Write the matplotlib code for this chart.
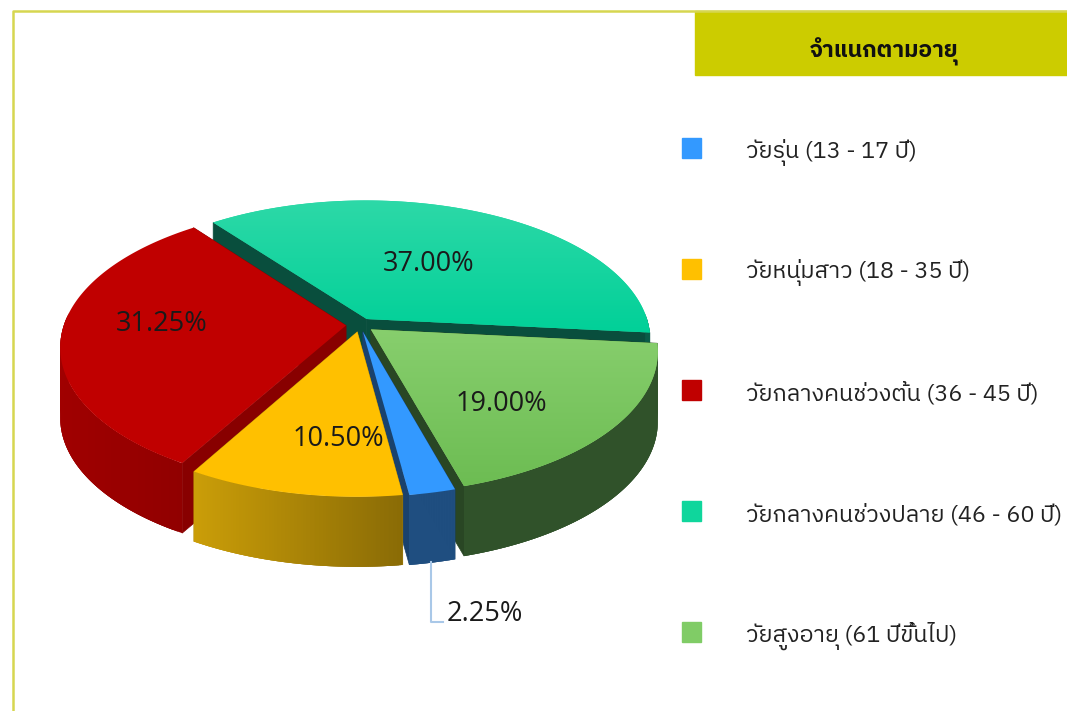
import numpy as np
import matplotlib
matplotlib.use('Agg')
import matplotlib.pyplot as plt
from matplotlib import font_manager as fm
from matplotlib.patches import Rectangle, Polygon
from matplotlib.colors import LinearSegmentedColormap

title = 'จำแนกตามอายุ'
categories = ['วัยรุ่น (13 - 17 ปี)', 'วัยหนุ่มสาว (18 - 35 ปี)', 'วัยกลางคนช่วงต้น (36 - 45 ปี)',
              'วัยกลางคนช่วงปลาย (46 - 60 ปี)', 'วัยสูงอายุ (61 ปีขึ้นไป)']
values = [2.25, 10.50, 31.25, 37.00, 19.00]
top_colors = ['#3399ff', '#ffc000', '#c00000', '#0fd69c', '#80cc66']
top_light = ['#3399ff', '#ffc000', '#c00000', '#2fd9a8', '#88cf6e']
top_dark = ['#3399ff', '#ffc000', '#c00000', '#00d098', '#6cbc52']
wall_colors = ['#1f4e80', '#cb9e08', '#a00000', '#0a5c48', '#30522a']
wall_shade = [1.0, 0.68, 0.9, 1.0, 1.0]
label_pos = [(485, 614), (338, 439), (162, 324), (429, 264), (501, 404)]

# pie geometry on screen, pixels
cx, cy = 360, 325
rx, ry = 282, 138
persp = 0.15
depth = 70
start_angle = -74
explode = [0.05, 0.05, 0.05, 0.05, 0.05]

thai_names = [f.name for f in fm.fontManager.ttflist if 'thai' in f.name.lower()]
thai_names = sorted(set(thai_names))
plt.rcParams['font.family'] = thai_names + ['Noto Sans', 'DejaVu Sans']


def project(x, y):
    f = 1 / (1 + persp * y)
    return cx + rx * x * f, cy - ry * y * f


def darker(col, k):
    return tuple(np.clip(np.array(matplotlib.colors.to_rgb(col)) * k, 0, 1))


fig = plt.figure(figsize=(1067 / 100, 711 / 100), dpi=100)
ax = fig.add_axes([0, 0, 1, 1])
ax.set_xlim(0, 1067)
ax.set_ylim(711, 0)
ax.axis('off')

# frame and title
ax.plot([13, 13, 1067], [711, 11, 11], color='#d6d650', lw=1.8)
ax.add_patch(Rectangle((695, 11), 372, 64, color='#cccc00'))
ax.text(884, 52, title, ha='center', va='center', fontsize=16.5, fontweight='bold', color='#111111')

# slices from clockwise cumulative angles
ends = start_angle - np.cumsum(values) * 3.6
starts = ends + np.array(values) * 3.6
slices = []
for i in range(len(values)):
    a = np.radians(np.linspace(starts[i], ends[i], 120))
    mid = np.radians((starts[i] + ends[i]) / 2)
    ox, oy = explode[i] * np.cos(mid), explode[i] * np.sin(mid)
    sx, sy = project(np.cos(a) + ox, np.sin(a) + oy)
    ax0, ay0 = project(ox, oy)
    slices.append((i, a, sx, sy, ax0, ay0, np.sin(mid)))

for i, a, sx, sy, ax0, ay0, order in sorted(slices, key=lambda s: -s[6]):
    wall = wall_colors[i]
    # radial cut faces
    for px, py in [(sx[0], sy[0]), (sx[-1], sy[-1])]:
        ax.fill([ax0, px, px, ax0], [ay0, py, py + depth, ay0 + depth],
                color=darker(wall, 0.85), lw=0.5)
    # outer rim, front part only, overlapping pieces so no seams show
    for j in range(len(sx) - 1):
        if np.sin(a[j]) > 0.05:
            continue
        t = (sx[j] - sx.min()) / (sx.max() - sx.min())
        shade = 1 + (wall_shade[i] - 1) * t
        qx, qy = sx[j:j + 4], sy[j:j + 4]
        ax.fill(np.r_[qx, qx[::-1]], np.r_[qy, qy[::-1] + depth], color=darker(wall, shade), lw=0)
    # top face, with a soft vertical gradient where the slice has one
    poly = Polygon(np.c_[np.r_[ax0, sx], np.r_[ay0, sy]], closed=True, color=top_colors[i], lw=0)
    ax.add_patch(poly)
    if top_light[i] != top_dark[i]:
        cmap = LinearSegmentedColormap.from_list('top', [top_light[i], top_dark[i]])
        grad = np.linspace(0, 1, 100).reshape(-1, 1)
        x_all, y_all = np.r_[ax0, sx], np.r_[ay0, sy]
        im = ax.imshow(grad, cmap=cmap, aspect='auto', interpolation='bilinear',
                       extent=(x_all.min() - 5, x_all.max() + 5, y_all.max() + 5, y_all.min() - 5),
                       zorder=poly.get_zorder())
        im.set_clip_path(poly)
ax.set_xlim(0, 1067)
ax.set_ylim(711, 0)

# data labels
label_font = ['Open Sans', 'DejaVu Sans']
for i, v in enumerate(values):
    ax.text(label_pos[i][0], label_pos[i][1], '%.2f%%' % v, ha='center', va='center', fontsize=19.5,
            color='#1a1a1a', family=label_font, zorder=5)

# leader line for the small slice
ax.plot([431, 431, 443], [562, 622, 622], color='#a9c8e8', lw=1.5)

# legend
legend_y = [148, 269, 390, 511, 632]
for i, name in enumerate(categories):
    ax.add_patch(Rectangle((682, legend_y[i] - 10), 19, 20, color=top_colors[i]))
    ax.text(746, legend_y[i] + 4, name, ha='left', va='center', fontsize=16.8, color='#222222')

fig.savefig('out.png', dpi=100)
